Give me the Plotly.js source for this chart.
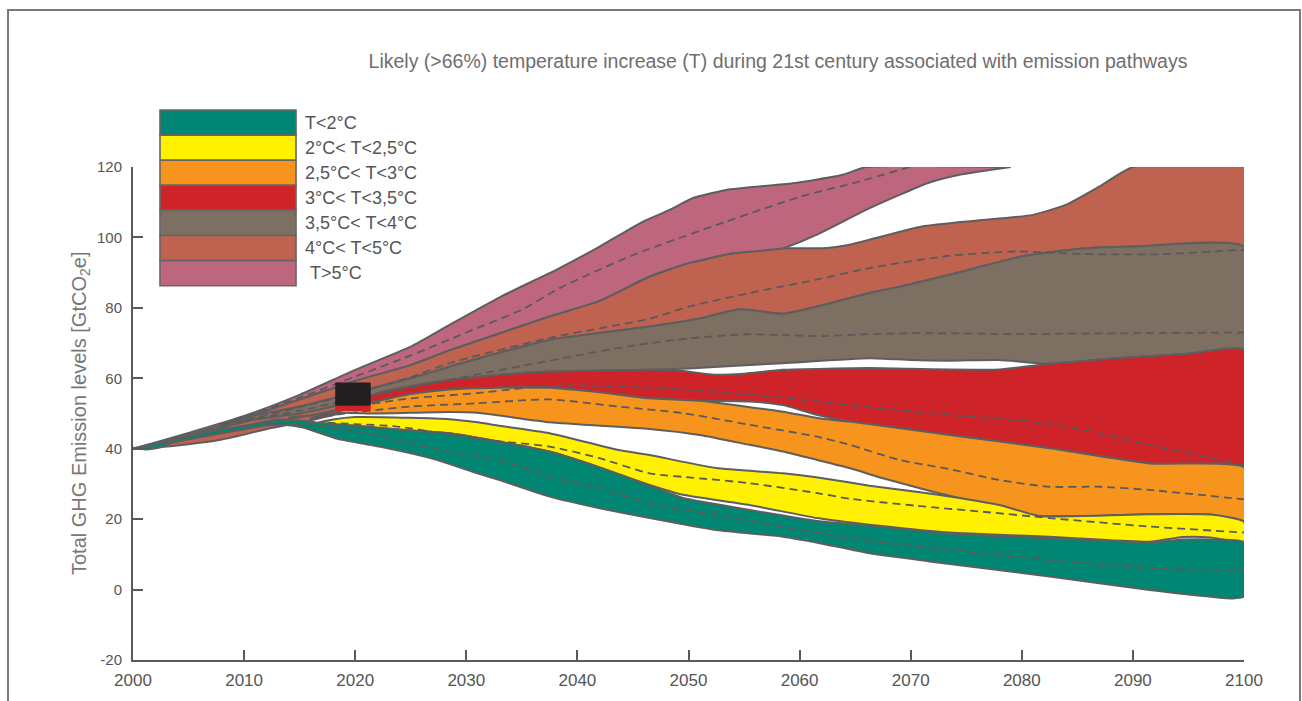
<!DOCTYPE html>
<html><head><meta charset="utf-8">
<script src="https://cdn.plot.ly/plotly-3.0.1.min.js"></script>
<style>html,body{margin:0;padding:0;background:#fff;overflow:hidden}#chart{width:1302px;height:701px}</style>
</head><body><div id="chart"></div>
<script>
// ---------- DATA: [year, GtCO2e] ----------
const bandLabels = ["T<2°C","2°C< T<2,5°C","2,5°C< T<3°C","3°C< T<3,5°C","3,5°C< T<4°C","4°C< T<5°C","\u00a0T>5°C"];
const bandColors = ["#008672","#FFF100","#F7941E","#CF232A","#7D6F61","#BF6250","#BE667E"];

const pinkUpper = [[2000,40],[2005,44.5],[2010,49.3],[2015,55.3],[2020,62.4],[2025,69],[2028.5,75.2],[2033,83],[2038.4,91.3],[2042,97.4],[2045.9,104.5],[2048.3,107.8],[2050.4,111.2],[2053.4,113.5],[2059.4,115.4],[2063.9,117.8],[2066,120],[2079,120]];
const pinkLower = [[2000,40],[2005,43.8],[2010,48.7],[2015,54],[2020,59.3],[2025,63.8],[2028.5,68],[2033,72.8],[2037.5,77.6],[2042,82],[2046.5,88.9],[2050,92.7],[2054,95.5],[2058.5,96.9],[2061.5,100.7],[2066.3,108.3],[2071.5,115.4],[2074.4,117.8],[2079,120]];
const pinkMedian = [[2008,47],[2010,49],[2015,54.5],[2020,60.5],[2025,66.5],[2030,73],[2035,79.5],[2038.4,85.6],[2045,95],[2053.4,104.5],[2060,111.5],[2065.4,115.9],[2069.9,120]];

const salmonUpper = [[2000,40],[2005,43.8],[2010,48.7],[2015,54],[2020,59.3],[2025,63.8],[2028.5,68],[2033,72.8],[2037.5,77.6],[2042,82],[2046.5,88.9],[2050,92.7],[2054,95.5],[2058.5,96.9],[2062.5,97],[2064.5,97.9],[2071,103.1],[2076,104.8],[2081,106.4],[2084,109.3],[2087,114.5],[2090,120],[2100,120]];
const salmonLower = [[2000,40],[2003,40.6],[2005,41.3],[2007.8,42.5],[2010,44],[2012.3,45.8],[2014,46.8],[2016,48],[2018,50.5],[2020,54],[2025,59.5],[2028.5,63.3],[2037.5,70.9],[2046.5,74.7],[2051,77],[2054.6,79.6],[2058.5,78.3],[2061.6,80.4],[2066.3,84.2],[2069,86],[2073.5,89.4],[2080,94.6],[2085,96.7],[2090,97.4],[2100,97.4]];
const salmonMedian = [[2008,46.5],[2010,48],[2015,51.8],[2020,55.8],[2025,60.3],[2028.5,64.3],[2037.5,71.5],[2046.5,76.9],[2050.1,80.4],[2055.5,84.2],[2061.5,88],[2066.3,91.3],[2073.5,94.8],[2079.5,96],[2085.5,95.3],[2092,95.2],[2100,96.5]];

const grayUpper = [[2000,40],[2005,44],[2009,47.5],[2011,49.5],[2015,52],[2020,56],[2025,60],[2028.5,63.3],[2037.5,70.9],[2046.5,74.7],[2051,77],[2054.6,79.6],[2058.5,78.3],[2061.6,80.4],[2066.3,84.2],[2069,86],[2073.5,89.4],[2080,94.6],[2085,96.7],[2090,97.4],[2100,97.4]];
const grayLower = [[2000,40],[2005,43.5],[2009,46.8],[2011,48.3],[2015,50],[2020,53.5],[2025,57.5],[2028.5,59.5],[2031,60.4],[2037.5,61.9],[2046.5,62.4],[2050,62.8],[2058.5,64.3],[2066.3,65.7],[2070,65.2],[2073.5,65],[2078,65.2],[2082.5,64.1],[2088.5,65.7],[2095,67],[2100,68.1]];
const grayMedian = [[2010,48],[2015,50.8],[2020,54.2],[2025,57.3],[2030,60.5],[2035,63.5],[2040,66.5],[2045,69.3],[2050,71.3],[2055,72.5],[2058,72.3],[2062,72],[2066,72.5],[2070,72.8],[2080,72.6],[2090,72.8],[2100,73]];

const redUpper = [[2016,48.5],[2018,50.5],[2020,53],[2022,55.8],[2025,57.8],[2028.5,59.5],[2031,60.4],[2037.5,61.9],[2046.5,62.4],[2049,62.2],[2052.5,61],[2055,61.3],[2058.5,62.4],[2066.3,62.9],[2070,62.7],[2078,62.5],[2082.5,64.1],[2088.5,65.7],[2095,67],[2100,68.1]];
const redLower = [[2016,48.3],[2018,49.5],[2020,51.5],[2022,53.5],[2025,55.5],[2028.5,56.8],[2033,57.3],[2037.5,57.4],[2042,56],[2046.5,54.3],[2051,53.6],[2055.5,53.4],[2058.5,52.4],[2061.6,49.6],[2064.5,47.7],[2073.5,43.9],[2082.5,40.1],[2091.5,35.8],[2100,34.7]];
const redMedian = [[2017,49.3],[2020,51.8],[2022,53],[2025,54.3],[2031,55.8],[2037,57.8],[2040,58],[2045,57.5],[2050,56.8],[2055,55.5],[2060,54],[2064.5,52.4],[2069,51],[2073.5,49.6],[2082.5,47.2],[2087,44.4],[2091.5,41.1],[2100,35.4]];

const orangeUpper = [[2014,48.5],[2016,49.5],[2018,50.8],[2020,52],[2022,53.5],[2025,55.5],[2028.5,56.8],[2033,57.3],[2037.5,57.3],[2042,56],[2046.5,54.3],[2051,53.6],[2055.5,51.8],[2058.5,50.5],[2062,48.5],[2064.5,47.7],[2073.5,43.9],[2082.5,40.1],[2091.5,35.8],[2100,34.7]];
const orangeLower = [[2014,48.8],[2016,49.5],[2018,50.2],[2022,50],[2025,50.2],[2028.5,50.4],[2031,50.2],[2037.5,47.5],[2046.5,45.6],[2051,43.9],[2055.5,41.1],[2058.5,39.2],[2061.6,36.8],[2064.5,34.5],[2067.5,31.6],[2072,27.8],[2075,25.5],[2081.6,20.9],[2091.5,21.4],[2097,21.3],[2100,19.3]];
const orangeMedian = [[2016,48.8],[2020,50.3],[2025,52],[2031,52.9],[2037.5,54],[2043.6,52],[2049.5,50.1],[2055.5,46.8],[2061.6,43.4],[2064.5,41.1],[2069,36.8],[2073.5,34.2],[2078,31.1],[2082.5,29.2],[2087,29.2],[2091.5,28.3],[2100,25.6]];

const yellowUpper = [[2016.6,47.3],[2018,48.3],[2020,49],[2025,48.8],[2028.5,48.4],[2031,47.5],[2033,46.5],[2037.5,44.4],[2043.6,39.7],[2046.5,38.2],[2052.5,34.5],[2058.5,33],[2062.5,31.4],[2066.3,29.5],[2070.5,27.8],[2073.5,26.4],[2078,24],[2081.6,20.9],[2091.5,21.4],[2097,21.3],[2100,19.3]];
const yellowLower = [[2016.6,47.2],[2018,46.9],[2020,46.5],[2025,45.2],[2028.5,44.4],[2033,42],[2037.5,39.2],[2042,34.7],[2046.5,29.7],[2049.5,26.9],[2055.5,24],[2061.6,20.3],[2066.3,18.4],[2073.5,16.2],[2082.5,15],[2091.5,13.6],[2094.5,14.9],[2097,14.8],[2100,13.6]];
const yellowMedian = [[2017.5,47.4],[2020,47],[2023.8,46.3],[2028.5,44],[2031.5,42.6],[2037.5,40.6],[2042,37.3],[2046.5,33],[2051,31.6],[2055.5,30.2],[2061.6,27.4],[2064.5,25.8],[2070.5,23.8],[2076.5,22.1],[2082.5,20.3],[2091.5,17.9],[2100,16.2]];

const greenUpper = [[2000,40],[2003,42],[2005,43.5],[2008,45.5],[2010,46.5],[2013,48.3],[2015,48],[2017,47.3],[2020,46.5],[2025,45.2],[2028.5,44.4],[2033,42],[2037.5,39.2],[2042,34.7],[2046.5,29.5],[2048.3,27.4],[2049.5,26],[2055.5,22.6],[2061.6,19.5],[2066.3,18.2],[2073.5,15.9],[2082.5,14.6],[2091.5,13.4],[2094.5,14.2],[2097,14.2],[2100,13.4]];
const greenLower = [[2000,40.3],[2001.2,39.8],[2002.4,40.3],[2003.3,41.5],[2007.8,44.3],[2012.3,46.7],[2013.5,46.8],[2015.3,46],[2018.4,42.8],[2021.3,41.1],[2024.3,39.2],[2027.4,36.8],[2031,33],[2033,31.1],[2037.5,26.4],[2042,23.1],[2046.5,20.3],[2052.5,16.9],[2058.5,15],[2061.6,13.3],[2066.3,10.3],[2071.7,8],[2082.5,3.7],[2091.5,-0.1],[2099,-2.5],[2100,-2]];
const greenMedian = [[2012,47.2],[2015,46.8],[2019.2,45.5],[2023.8,42.5],[2027,40.1],[2028.5,39.2],[2033,36.8],[2037.5,32.1],[2042,28.8],[2046.5,24.5],[2052.5,21.2],[2058.5,17.9],[2064.5,14.6],[2073.5,11.3],[2082.5,8.4],[2091.5,6.1],[2100,5.4]];

// dark box present in the source image (data coords)
const boxYears = [2018.2, 2021.4];
const boxBlack = [52.2, 58.8];
const boxRed = [50.7, 52.2];

const xTicks = [2000,2010,2020,2030,2040,2050,2060,2070,2080,2090,2100];
const yTicks = [-20,0,20,40,60,80,100,120];

// ---------- BUILD ----------
const W = 1302, H = 701, ML = 133, MR = 58, MT = 167, MB = 41;
const PW = W - ML - MR, PH = H - MT - MB;
const pxX = p => (p - ML) / PW;
const pxY = p => (H - MB - p) / PH;
const OUT = "#5E5E5E";
const FONT = "Liberation Sans, Arial, sans-serif";

// painting order: bottom to top
const bands = [
  {up: salmonUpper, lo: salmonLower, c: bandColors[5]},
  {up: pinkUpper, lo: pinkLower, c: bandColors[6]},
  {up: grayUpper, lo: grayLower, c: bandColors[4]},
  {up: redUpper, lo: redLower, c: bandColors[3]},
  {up: orangeUpper, lo: orangeLower, c: bandColors[2]},
  {up: yellowUpper, lo: yellowLower, c: bandColors[1]},
  {up: greenUpper, lo: greenLower, c: bandColors[0]}
];
const medians = [pinkMedian, salmonMedian, grayMedian, redMedian, orangeMedian, yellowMedian, greenMedian];

const traces = [];
bands.forEach(b => {
  const pts = b.up.concat(b.lo.slice().reverse());
  pts.push(b.up[0]);
  traces.push({
    type: "scatter", mode: "lines",
    x: pts.map(d => d[0]), y: pts.map(d => d[1]),
    fill: "toself", fillcolor: b.c,
    line: {color: OUT, width: 2, shape: "spline", smoothing: 0.5},
    hoverinfo: "skip", showlegend: false
  });
});
medians.forEach(m => {
  traces.push({
    type: "scatter", mode: "lines",
    x: m.map(d => d[0]), y: m.map(d => d[1]),
    line: {color: "#5A5A5A", width: 1.8, dash: "8px,5px", shape: "spline", smoothing: 0.6},
    hoverinfo: "skip", showlegend: false
  });
});

const shapes = [];
const annotations = [];
// legend
const legTop = 110, legRow = 25.1, legL = 160, legR = 296;
bandLabels.forEach((lab, i) => {
  const y0 = legTop + i * legRow, y1 = y0 + legRow;
  shapes.push({type: "rect", xref: "paper", yref: "paper",
    x0: pxX(legL), x1: pxX(legR), y0: pxY(y1), y1: pxY(y0),
    fillcolor: bandColors[i], line: {color: "#666", width: 1.6}, layer: "above"});
  annotations.push({xref: "paper", yref: "paper", x: pxX(303), y: pxY((y0 + y1) / 2),
    xanchor: "left", yanchor: "middle", text: lab, showarrow: false,
    font: {family: FONT, size: 18, color: "#555"}});
});
// dark box
shapes.push({type: "rect", xref: "x", yref: "y", x0: boxYears[0], x1: boxYears[1], y0: boxRed[0], y1: boxRed[1],
  fillcolor: bandColors[3], line: {width: 0}, layer: "above"});
shapes.push({type: "rect", xref: "x", yref: "y", x0: boxYears[0], x1: boxYears[1], y0: boxBlack[0], y1: boxBlack[1],
  fillcolor: "#231F20", line: {width: 0}, layer: "above"});
// outer frame
shapes.push({type: "rect", xref: "paper", yref: "paper", x0: pxX(8), x1: pxX(1300), y0: pxY(720), y1: pxY(10),
  fillcolor: "rgba(0,0,0,0)", line: {color: "#7A7A7A", width: 2}, layer: "above"});
// y-axis title
annotations.push({xref: "paper", yref: "paper", x: pxX(80), y: pxY(414), xanchor: "center", yanchor: "middle",
  textangle: -90, showarrow: false, text: "Total GHG Emission levels [GtCO<sub>2</sub>e]",
  font: {family: FONT, size: 20, color: "#777"}});

const layout = {
  width: W, height: H,
  margin: {l: ML, r: MR, t: MT, b: MB, pad: 0},
  paper_bgcolor: "#fff", plot_bgcolor: "#fff",
  title: {text: "Likely (>66%) temperature increase (T) during 21st century associated with emission pathways",
    xref: "paper", x: pxX(778), xanchor: "center", y: 1 - 61 / H, yanchor: "middle",
    font: {family: FONT, size: 19.5, color: "#6E6E6E"}},
  xaxis: {range: [2000, 2100], tickvals: xTicks, ticktext: xTicks.map(String),
    showgrid: false, zeroline: false, showline: true, linecolor: "#5A5A5A", linewidth: 2,
    ticks: "inside", ticklen: 10, tickwidth: 2, tickcolor: "#5A5A5A", ticklabelstandoff: 4,
    tickfont: {family: FONT, size: 17, color: "#555"}},
  yaxis: {range: [-20, 120], tickvals: yTicks, ticktext: yTicks.map(String),
    showgrid: false, zeroline: false, showline: true, linecolor: "#5A5A5A", linewidth: 2,
    ticks: "inside", ticklen: 10, tickwidth: 2, tickcolor: "#5A5A5A", ticklabelstandoff: 6,
    tickfont: {family: FONT, size: 15, color: "#555"}},
  shapes: shapes, annotations: annotations
};
Plotly.newPlot("chart", traces, layout, {staticPlot: true, displayModeBar: false});
</script></body></html>
